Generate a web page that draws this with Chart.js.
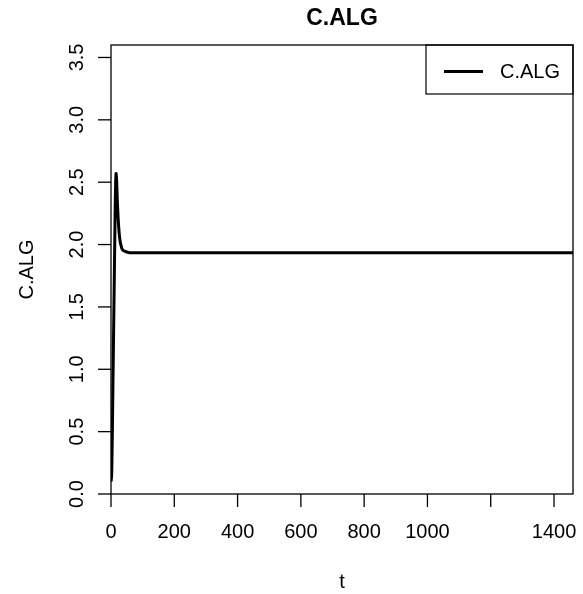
<!DOCTYPE html>
<html>
<head>
<meta charset="utf-8">
<script src="https://cdn.jsdelivr.net/npm/chart.js@4.4.0/dist/chart.umd.min.js"></script>
<style>
  html, body { margin: 0; padding: 0; background: #fff; }
  #wrap { width: 583px; height: 594px; }
</style>
</head>
<body>
<div id="wrap"><canvas id="algChart" width="583" height="594"></canvas></div>
<script>
// series
const tValues = [0, 2, 4, 6, 8, 10, 12, 14, 16, 18, 20, 24, 28, 32, 36, 40, 50, 60, 100, 400, 800, 1200, 1460];
const algValues = [0.1, 0.15, 0.45, 0.85, 1.25, 1.65, 2.05, 2.42, 2.57, 2.5, 2.35, 2.15, 2.04, 1.99, 1.96, 1.95, 1.94, 1.935, 1.935, 1.935, 1.935, 1.935, 1.935];

const xTicks = [0, 200, 400, 600, 800, 1000, 1200, 1400];
const xTickLabels = ['0', '200', '400', '600', '800', '1000', '', '1400'];
const yTicks = [0, 0.5, 1, 1.5, 2, 2.5, 3, 3.5];
const yTickLabels = ['0.0', '0.5', '1.0', '1.5', '2.0', '2.5', '3.0', '3.5'];

const FONT = '"Liberation Sans", Arial, Helvetica, sans-serif';

// R-style frame, ticks, titles and legend
const rFrame = {
  id: 'rFrame',
  afterDraw(chart) {
    const c = chart.ctx;
    const a = chart.chartArea;
    const xs = chart.scales.x, ys = chart.scales.y;
    c.save();
    c.strokeStyle = '#000';
    c.fillStyle = '#000';
    c.lineWidth = 1.3;
    c.strokeRect(a.left, a.top, a.right - a.left, a.bottom - a.top);

    c.font = '20px ' + FONT;
    c.textAlign = 'center';
    c.textBaseline = 'middle';
    xTicks.forEach((v, i) => {
      const px = xs.getPixelForValue(v);
      c.beginPath();
      c.moveTo(px, a.bottom);
      c.lineTo(px, a.bottom + 13);
      c.stroke();
      if (xTickLabels[i]) c.fillText(xTickLabels[i], px, a.bottom + 38);
    });
    yTicks.forEach((v, i) => {
      const py = ys.getPixelForValue(v);
      c.beginPath();
      c.moveTo(a.left, py);
      c.lineTo(a.left - 13, py);
      c.stroke();
      c.save();
      c.translate(a.left - 34, py);
      c.rotate(-Math.PI / 2);
      c.fillText(yTickLabels[i], 0, 0);
      c.restore();
    });

    const midX = (a.left + a.right) / 2;
    const midY = (a.top + a.bottom) / 2;
    c.fillText('t', midX, a.bottom + 88);
    c.save();
    c.translate(27, midY);
    c.rotate(-Math.PI / 2);
    c.fillText('C.ALG', 0, 0);
    c.restore();

    c.font = 'bold 23px ' + FONT;
    c.fillText('C.ALG', midX, 19);

    // legend box in the top right corner
    const lx = 426, ly = a.top, lw = a.right - 426, lh = 49;
    c.lineWidth = 1.2;
    c.strokeRect(lx, ly, lw, lh);
    c.lineWidth = 3;
    c.beginPath();
    c.moveTo(444, ly + 26.5);
    c.lineTo(483, ly + 26.5);
    c.stroke();
    c.font = '20px ' + FONT;
    c.textAlign = 'left';
    c.fillText('C.ALG', 500, ly + 27);
    c.restore();
  }
};

new Chart(document.getElementById('algChart'), {
  type: 'line',
  data: {
    datasets: [{
      label: 'C.ALG',
      data: tValues.map((t, i) => ({ x: t, y: algValues[i] })),
      borderColor: '#000',
      borderWidth: 3,
      pointRadius: 0,
      tension: 0.3,
      fill: false
    }]
  },
  options: {
    responsive: false,
    animation: false,
    devicePixelRatio: 1,
    layout: { padding: { left: 111, top: 45, right: 10, bottom: 100 } },
    plugins: { legend: { display: false }, title: { display: false }, tooltip: { enabled: false } },
    scales: {
      x: { type: 'linear', min: 0, max: 1460, display: false },
      y: { type: 'linear', min: 0, max: 3.6, display: false }
    }
  },
  plugins: [rFrame]
});
</script>
</body>
</html>
